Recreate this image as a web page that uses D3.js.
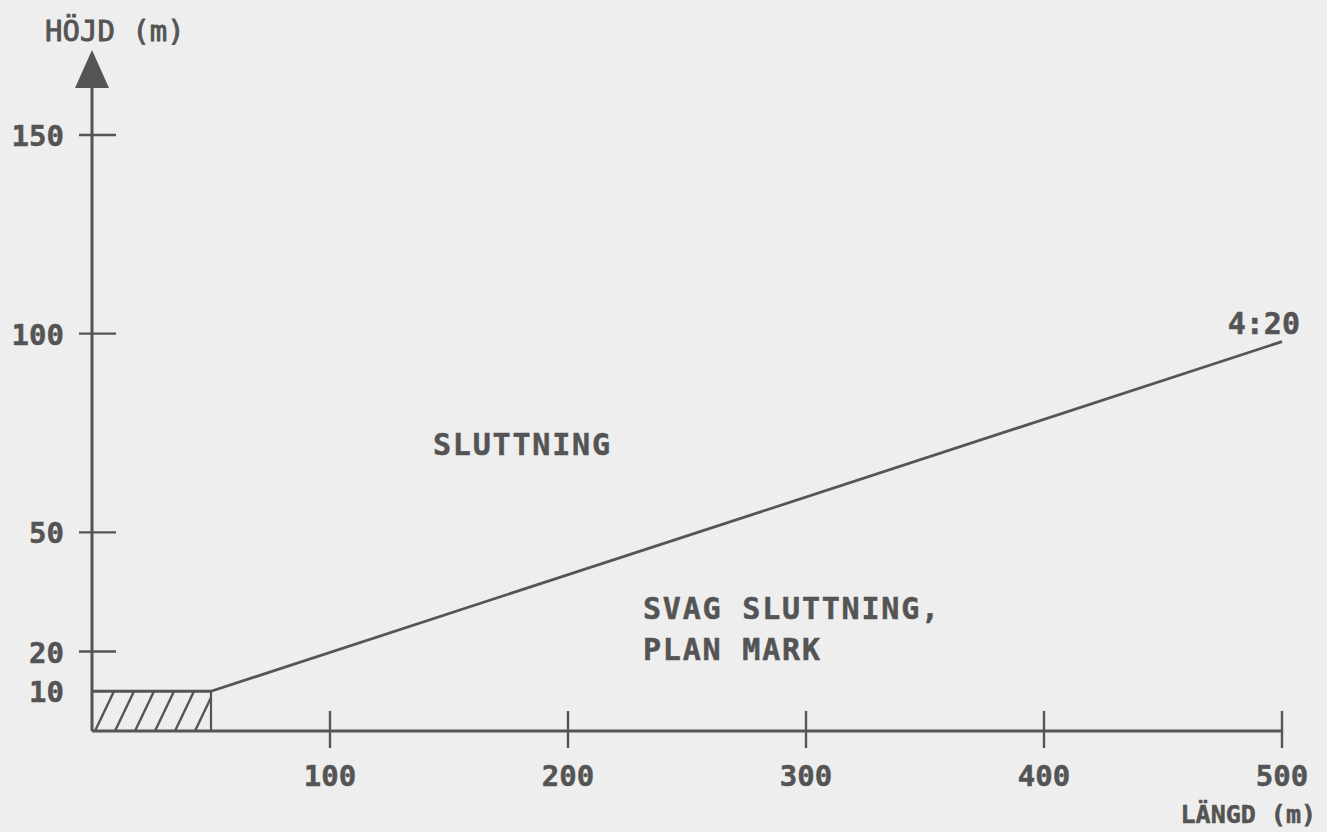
<!DOCTYPE html>
<html>
<head>
<meta charset="utf-8">
<script src="https://cdn.jsdelivr.net/npm/d3@7"></script>
<style>
  html, body { margin: 0; padding: 0; background: #eeeeee; }
  svg { display: block; }
  text { font-family: "DejaVu Sans Mono", monospace; font-weight: bold; fill: #545454;
         stroke: #545454; stroke-width: 0.5px; }
</style>
</head>
<body>
<svg id="chart" width="1327" height="832"></svg>
<script>
// Axis ticks (metres)
const yTicks = [10, 20, 50, 100, 150];
const yTickMarks = [20, 50, 100, 150];
const xTicks = [100, 200, 300, 400, 500];

// Flat ground: length 0–50 m at height 10 m (hatched block)
const flatLength = [0, 50];
const flatHeight = 10;

// Slope line, 4:20, from the end of the flat block to 500 m
const slopeLength = [50, 500];
const slopeHeight = [10, 98];

const yTitle = "HÖJD (m)";
const xTitle = "LÄNGD (m)";
const slopeLabel = "4:20";
const zoneUpper = ["SLUTTNING"];
const zoneLower = ["SVAG SLUTTNING,", "PLAN MARK"];

const ink = "#555555";
const svg = d3.select("#chart");

const x = d3.scaleLinear().domain([0, 500]).range([92, 1282]);
const y = d3.scaleLinear().domain([0, 150]).range([731, 135]);

// Hatched block
const bx0 = x(flatLength[0]), bx1 = x(flatLength[1]);
const by0 = y(flatHeight), by1 = y(0);
svg.append("clipPath").attr("id", "blockClip")
  .append("rect").attr("x", bx0).attr("y", by0)
  .attr("width", bx1 - bx0).attr("height", by1 - by0);
const hatch = svg.append("g").attr("clip-path", "url(#blockClip)");
d3.range(bx0 + 3, bx1 + 20, 20).forEach(h => {
  hatch.append("line")
    .attr("x1", h).attr("y1", by1)
    .attr("x2", h + 19).attr("y2", by0)
    .attr("stroke", ink).attr("stroke-width", 2.4);
});
svg.append("line")
  .attr("x1", bx0).attr("y1", by0).attr("x2", bx1).attr("y2", by0)
  .attr("stroke", ink).attr("stroke-width", 3.2);
svg.append("line")
  .attr("x1", bx1).attr("y1", by0).attr("x2", bx1).attr("y2", by1)
  .attr("stroke", ink).attr("stroke-width", 2.2);

// Slope line
const slope = slopeLength.map((d, i) => [d, slopeHeight[i]]);
svg.append("path")
  .attr("d", d3.line().x(d => x(d[0])).y(d => y(d[1]))(slope))
  .attr("fill", "none").attr("stroke", ink).attr("stroke-width", 2.8);

// X axis
svg.append("line")
  .attr("x1", x(0)).attr("y1", y(0)).attr("x2", x(500)).attr("y2", y(0))
  .attr("stroke", ink).attr("stroke-width", 3);
xTicks.forEach(t => {
  svg.append("line")
    .attr("x1", x(t)).attr("y1", y(0) - 20).attr("x2", x(t)).attr("y2", y(0) + 17)
    .attr("stroke", ink).attr("stroke-width", 2.4);
  svg.append("text")
    .attr("x", x(t)).attr("y", y(0) + 55)
    .attr("text-anchor", "middle").attr("font-size", 29)
    .text(t);
});

// Y axis with arrowhead
svg.append("line")
  .attr("x1", x(0)).attr("y1", y(0)).attr("x2", x(0)).attr("y2", 84)
  .attr("stroke", ink).attr("stroke-width", 3);
svg.append("path")
  .attr("d", `M${x(0)},50 L${x(0) + 17},88 L${x(0) - 17},88 Z`)
  .attr("fill", ink);
yTickMarks.forEach(t => {
  svg.append("line")
    .attr("x1", x(0) - 13).attr("y1", y(t)).attr("x2", x(0) + 24).attr("y2", y(t))
    .attr("stroke", ink).attr("stroke-width", 2.4);
});
yTicks.forEach(t => {
  svg.append("text")
    .attr("x", 64).attr("y", y(t) + 11)
    .attr("text-anchor", "end").attr("font-size", 29)
    .text(t);
});

// Axis titles
svg.append("text").attr("x", 45).attr("y", 41)
  .attr("font-size", 29).style("font-weight", "normal").style("stroke-width", "0.9px")
  .text(yTitle);
svg.append("text").attr("x", 1316).attr("y", 823)
  .attr("text-anchor", "end").attr("font-size", 25)
  .text(xTitle);

// Labels
svg.append("text").attr("x", 1300).attr("y", 334)
  .attr("text-anchor", "end").attr("font-size", 30)
  .text(slopeLabel);
svg.append("text").attr("x", 433).attr("y", 455)
  .attr("font-size", 30).attr("letter-spacing", 1.8)
  .text(zoneUpper[0]);
zoneLower.forEach((s, i) => {
  svg.append("text").attr("x", 643).attr("y", 619 + i * 41)
    .attr("font-size", 30).attr("letter-spacing", 1.8)
    .text(s);
});
</script>
</body>
</html>
